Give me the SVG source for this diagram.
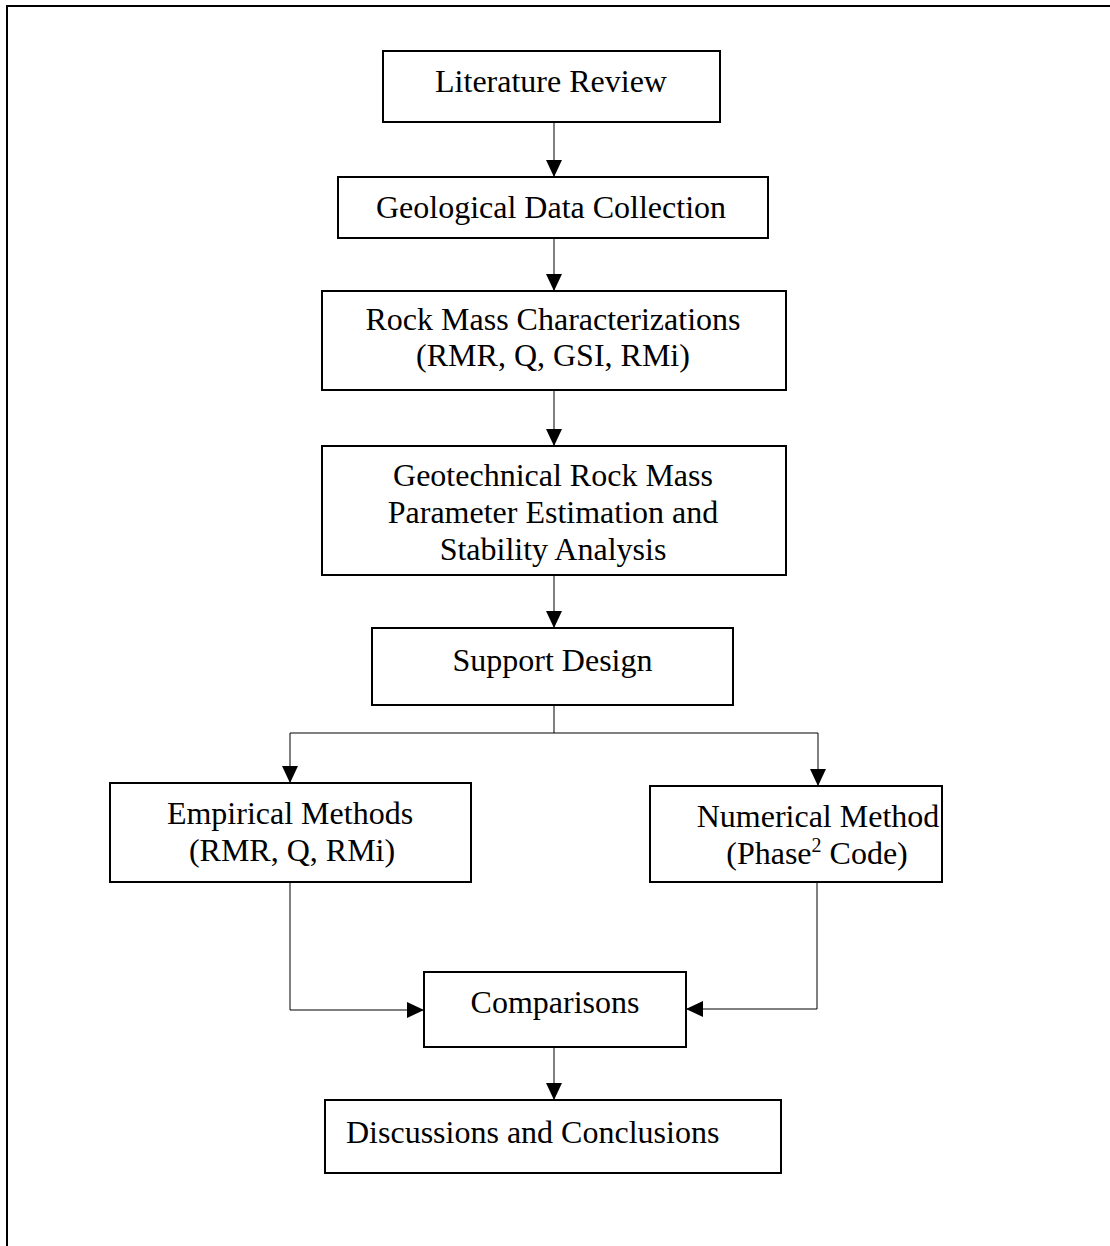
<svg xmlns="http://www.w3.org/2000/svg" width="1110" height="1246" viewBox="0 0 1110 1246">
  <style>
    .box { fill: #fff; stroke: #000; stroke-width: 2; }
    .lbl { font-family: "Liberation Serif", "Times New Roman", serif; font-size: 32px; fill: #000; text-anchor: middle; }
    .lblL { font-family: "Liberation Serif", "Times New Roman", serif; font-size: 32px; fill: #000; }
    .conn { fill: none; stroke: #000; stroke-width: 1; }
    .frame { fill: none; stroke: #000; stroke-width: 2; }
  </style>
  <defs>
    <marker id="arrow" markerUnits="userSpaceOnUse" markerWidth="18" markerHeight="16" refX="17" refY="8" orient="auto">
      <path d="M0,0 L17,8 L0,16 z" fill="#000"/>
    </marker>
  </defs>
  <rect width="1110" height="1246" fill="#fff"/>
  <path class="frame" d="M7,1246 V6 H1110"/>

  <g id="connectors">
    <path class="conn" d="M554,122 V177" marker-end="url(#arrow)"/>
    <path class="conn" d="M554,238 V291" marker-end="url(#arrow)"/>
    <path class="conn" d="M554,390 V446" marker-end="url(#arrow)"/>
    <path class="conn" d="M554,575 V628" marker-end="url(#arrow)"/>
    <path class="conn" d="M554,705 V733 H290 V783" marker-end="url(#arrow)"/>
    <path class="conn" d="M554,733 H818 V786" marker-end="url(#arrow)"/>
    <path class="conn" d="M290,882 V1010 H424" marker-end="url(#arrow)"/>
    <path class="conn" d="M817,882 V1009 H686" marker-end="url(#arrow)"/>
    <path class="conn" d="M554,1047 V1100" marker-end="url(#arrow)"/>
  </g>

  <g id="literature-review">
    <rect class="box" x="383" y="51" width="337" height="71"/>
    <text class="lbl" x="551" y="92">Literature Review</text>
  </g>
  <g id="geological-data">
    <rect class="box" x="338" y="177" width="430" height="61"/>
    <text class="lbl" x="551" y="218">Geological Data Collection</text>
  </g>
  <g id="rock-mass">
    <rect class="box" x="322" y="291" width="464" height="99"/>
    <text class="lbl" x="553" y="330">Rock Mass Characterizations</text>
    <text class="lbl" x="553" y="366">(RMR, Q, GSI, RMi)</text>
  </g>
  <g id="geotechnical">
    <rect class="box" x="322" y="446" width="464" height="129"/>
    <text class="lbl" x="553" y="486">Geotechnical Rock Mass</text>
    <text class="lbl" x="553" y="523">Parameter Estimation and</text>
    <text class="lbl" x="553" y="560">Stability Analysis</text>
  </g>
  <g id="support-design">
    <rect class="box" x="372" y="628" width="361" height="77"/>
    <text class="lbl" x="552.5" y="671">Support Design</text>
  </g>
  <g id="empirical">
    <rect class="box" x="110" y="783" width="361" height="99"/>
    <text class="lbl" x="290" y="824">Empirical Methods</text>
    <text class="lbl" x="292" y="861">(RMR, Q, RMi)</text>
  </g>
  <g id="numerical">
    <rect class="box" x="650" y="786" width="292" height="96"/>
    <text class="lbl" x="818" y="827">Numerical Method</text>
    <text class="lbl" x="817" y="864">(Phase<tspan font-size="20" dy="-12">2</tspan><tspan dy="12"> Code)</tspan></text>
  </g>
  <g id="comparisons">
    <rect class="box" x="424" y="972" width="262" height="75"/>
    <text class="lbl" x="555" y="1013">Comparisons</text>
  </g>
  <g id="discussions">
    <rect class="box" x="325" y="1100" width="456" height="73"/>
    <text class="lblL" x="346" y="1143">Discussions and Conclusions</text>
  </g>
</svg>
